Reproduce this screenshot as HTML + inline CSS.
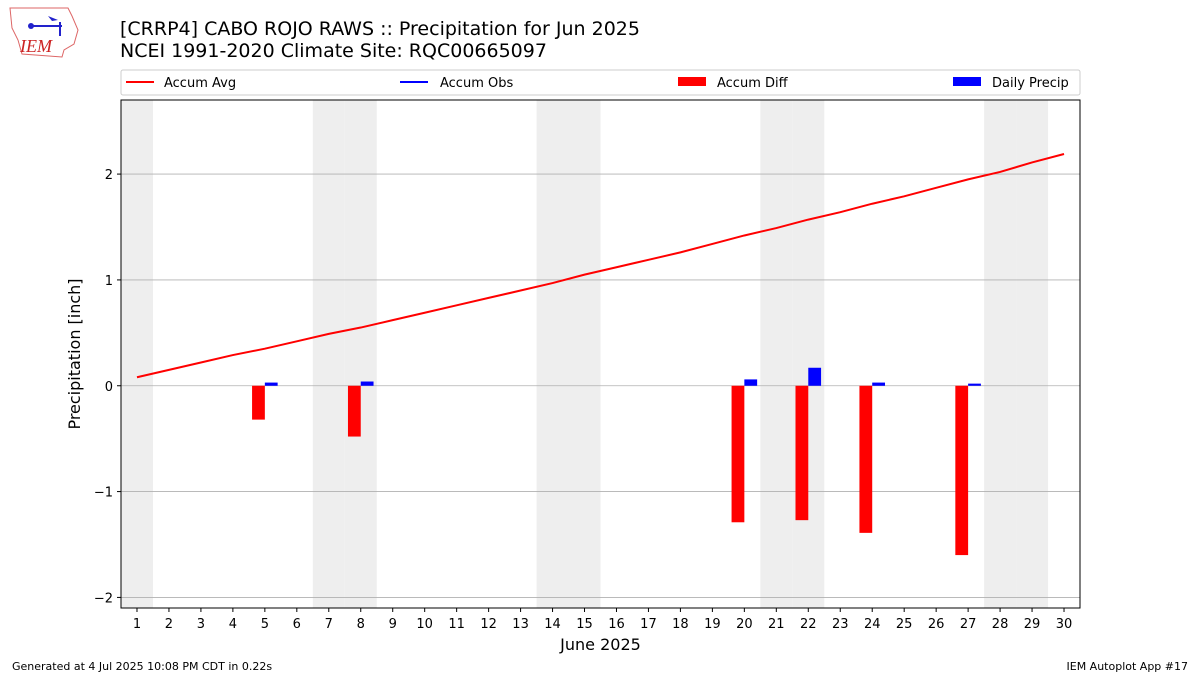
<!DOCTYPE html>
<html><head><meta charset="utf-8"><style>
body{margin:0;background:#fff;font-family:"Liberation Sans","DejaVu Sans",sans-serif}
</style></head><body>
<svg id="c" width="1200" height="675" xmlns="http://www.w3.org/2000/svg" font-family="DejaVu Sans, Liberation Sans, sans-serif">
<g>
<path d="M10 8 L68 8 L72 16 L78 30 L74 44 L64 50 L62 57 L22 54 L18 40 L12 28 Z" fill="none" stroke="#d66" stroke-width="1"/>
<line x1="30" y1="26" x2="62" y2="26" stroke="#22c" stroke-width="2"/>
<circle cx="31" cy="26" r="3" fill="#22c"/>
<path d="M48 16 L58 20 L52 21 Z" fill="#22c"/>
<line x1="60" y1="22" x2="60" y2="36" stroke="#22c" stroke-width="2"/>
<text x="20" y="52" font-family="Liberation Serif, serif" font-style="italic" font-size="18" fill="#c22">IEM</text>
</g>
<text x="120" y="35" font-size="19" fill="#000">[CRRP4] CABO ROJO RAWS :: Precipitation for Jun 2025</text>
<text x="120" y="57" font-size="19" fill="#000">NCEI 1991-2020 Climate Site: RQC00665097</text>
<g>
<rect x="121" y="70" width="959" height="25" fill="#fff" stroke="#ccc" rx="2"/>
<line x1="126" y1="82" x2="154" y2="82" stroke="red" stroke-width="2"/>
<text x="164" y="87" font-size="13">Accum Avg</text>
<line x1="400" y1="82" x2="428" y2="82" stroke="blue" stroke-width="2"/>
<text x="440" y="87" font-size="13">Accum Obs</text>
<rect x="678" y="77" width="28" height="9" fill="red"/>
<text x="717" y="87" font-size="13">Accum Diff</text>
<rect x="953" y="77" width="28" height="9" fill="blue"/>
<text x="992" y="87" font-size="13">Daily Precip</text>
</g>
<g id="plot"></g>
<text x="12" y="670" font-size="11">Generated at 4 Jul 2025 10:08 PM CDT in 0.22s</text>
<text x="1188" y="670" font-size="11" text-anchor="end">IEM Autoplot App #17</text>
</svg>
<script>
const days=[1,2,3,4,5,6,7,8,9,10,11,12,13,14,15,16,17,18,19,20,21,22,23,24,25,26,27,28,29,30];
const accumAvg=[0.08,0.15,0.22,0.29,0.35,0.42,0.49,0.55,0.62,0.69,0.76,0.83,0.90,0.97,1.05,1.12,1.19,1.26,1.34,1.42,1.49,1.57,1.64,1.72,1.79,1.87,1.95,2.02,2.11,2.19];
const barDays=[5,8,20,22,24,27];
const accumDiff=[-0.32,-0.48,-1.29,-1.27,-1.39,-1.60];
const dailyPrecip=[0.03,0.04,0.06,0.17,0.03,0.02];
const weekendDays=[1,7,8,14,15,21,22,28,29];
const yTicks=[-2,-1,0,1,2];
const yTickLabels=["\u22122","\u22121","0","1","2"];
const L=121,R=1080,T=100,B=608,xmin=0.5,xmax=30.5,ymin=-2.1,ymax=2.7;
const X=d=>L+(d-xmin)/(xmax-xmin)*(R-L);
const Y=v=>B-(v-ymin)/(ymax-ymin)*(B-T);
const NS="http://www.w3.org/2000/svg",g=document.getElementById('plot');
function mk(t,a,p){const e=document.createElementNS(NS,t);for(const k in a)e.setAttribute(k,a[k]);(p||g).appendChild(e);return e;}
weekendDays.forEach(d=>{const e=mk('rect',{x:X(d-0.5),y:T,width:X(d+0.5)-X(d-0.5),height:B-T,fill:'#eee'});

});
yTicks.forEach((v,i)=>{const l=mk('line',{x1:L,x2:R,y1:Y(v),y2:Y(v),stroke:'#b0b0b0','stroke-width':0.8});


mk('line',{x1:L-4,x2:L,y1:Y(v),y2:Y(v),stroke:'#000'});
const t=mk('text',{x:L-8,y:Y(v)+5,'text-anchor':'end','font-size':13});t.textContent=yTickLabels[i];

});
days.forEach(d=>{mk('line',{x1:X(d),x2:X(d),y1:B,y2:B+4,stroke:'#000'});
const t=mk('text',{x:X(d),y:B+20,'text-anchor':'middle','font-size':13});t.textContent=d;

});
const w=(X(1)-X(0))*0.4;
barDays.forEach((d,i)=>{const v=accumDiff[i];
const r=mk('rect',{x:X(d)-w,y:Math.min(Y(0),Y(v)),width:w,height:Math.abs(Y(v)-Y(0)),fill:'red'});


const p=dailyPrecip[i];
const b=mk('rect',{x:X(d),y:Y(p),width:w,height:Y(0)-Y(p),fill:'blue'});

});
const ln=mk('polyline',{points:days.map((d,i)=>X(d)+','+Y(accumAvg[i])).join(' '),fill:'none',stroke:'red','stroke-width':2});


const fr=mk('rect',{x:L,y:T,width:R-L,height:B-T,fill:'none',stroke:'#000','stroke-width':1});


const xt=mk('text',{x:(L+R)/2,y:650,'text-anchor':'middle','font-size':16});xt.textContent='June 2025';


const yt=mk('text',{x:0,y:0,'text-anchor':'middle','font-size':16,transform:'translate(80,'+((T+B)/2)+') rotate(-90)'});yt.textContent='Precipitation [inch]';


</script>
</body></html>
